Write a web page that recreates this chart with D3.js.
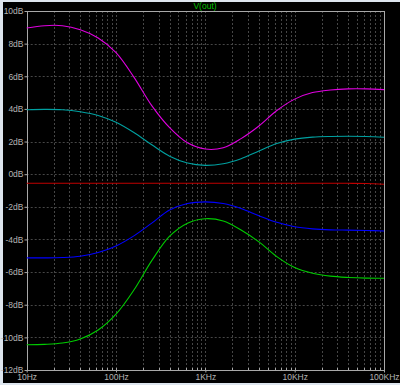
<!DOCTYPE html>
<html><head><meta charset="utf-8">
<script src="https://cdn.jsdelivr.net/npm/d3@7"></script>
<style>
html,body{margin:0;padding:0;background:#dde5ee;}
svg{display:block;}
text{font-family:"Liberation Sans",Arial,sans-serif;}
</style></head><body>
<svg id="c" width="400" height="385"></svg>
<script>
// ---- data ----
const freqs = [10,15.85,25.12,39.81,63.1,100,158.5,251.2,398.1,631,1000,1585,2512,3981,6310,10000,15850,25120,39810,63100,100000];
const magenta = [8.96,9.10,9.10,8.85,8.35,7.45,5.95,4.20,2.85,1.92,1.54,1.62,2.18,2.95,3.90,4.60,5.00,5.16,5.23,5.23,5.18];
const cyan    = [3.95,3.97,3.95,3.83,3.60,3.18,2.55,1.80,1.10,0.68,0.54,0.64,0.95,1.42,1.88,2.15,2.27,2.31,2.32,2.31,2.26];
const red     = [-0.56,-0.56,-0.56,-0.56,-0.56,-0.56,-0.56,-0.56,-0.56,-0.56,-0.56,-0.56,-0.56,-0.56,-0.56,-0.56,-0.56,-0.56,-0.56,-0.57,-0.62];
const blue    = [-5.13,-5.13,-5.11,-5.03,-4.80,-4.40,-3.78,-3.00,-2.20,-1.80,-1.70,-1.80,-2.10,-2.55,-2.95,-3.22,-3.35,-3.41,-3.43,-3.45,-3.48];
const green   = [-10.45,-10.43,-10.35,-10.10,-9.55,-8.58,-7.10,-5.30,-3.80,-3.00,-2.73,-2.87,-3.42,-4.15,-5.05,-5.72,-6.07,-6.25,-6.33,-6.37,-6.38];
const yTicks = [10,8,6,4,2,0,-2,-4,-6,-8,-10,-12];
const xTickVals = [10,100,1000,10000,100000];
const xTickLabels = ["10Hz","100Hz","1KHz","10KHz","100KHz"];
const title = "V(out)";
const seriesList = [
  {name:"magenta", vals:magenta, color:"#e000e0"},
  {name:"cyan", vals:cyan, color:"#00a0a0"},
  {name:"red", vals:red, color:"#c00000"},
  {name:"blue", vals:blue, color:"#0000ff"},
  {name:"green", vals:green, color:"#00cc00"}
];

// ---- layout ----
const svg = d3.select("#c");
const L = 26.7, R = 384, T = 11, B = 370;
svg.append("rect").attr("x",3).attr("y",2).attr("width",397).attr("height",381).attr("fill","#000");

const x = d3.scaleLog().domain([10,100000]).range([L,R]);
const y = d3.scaleLinear().domain([-12,10]).range([B,T]);

const minor = [];
for (let d = 10; d < 100000; d *= 10) for (let k = 1; k <= 9; k++) if (!(k===1 && d===10)) minor.push(k*d);

const grid = svg.append("g");
grid.selectAll("line.v").data(minor).join("line")
  .attr("x1",d=>Math.round(x(d))+0.5).attr("x2",d=>Math.round(x(d))+0.5)
  .attr("y1",T).attr("y2",B)
  .attr("stroke","#464646").attr("stroke-width",1).attr("stroke-dasharray","2,2");
grid.selectAll("line.h").data(yTicks.filter(v=>v>-12 && v<10)).join("line")
  .attr("x1",L).attr("x2",R)
  .attr("y1",d=>Math.round(y(d))+0.5).attr("y2",d=>Math.round(y(d))+0.5)
  .attr("stroke","#464646").attr("stroke-width",1).attr("stroke-dasharray","2,2");

// frame
svg.append("rect").attr("x",Math.round(L)+0.5).attr("y",T+0.5)
  .attr("width",Math.round(R)-Math.round(L)).attr("height",B-T)
  .attr("fill","none").attr("stroke","#a8a8a8").attr("stroke-width",1);

// y axis
const yAxis = d3.axisLeft(y).tickValues(yTicks).tickSize(3).tickFormat(d=>d+"dB");
const gy = svg.append("g").attr("transform",`translate(${Math.round(L)+0.5},0)`).call(yAxis);
gy.select(".domain").remove();
gy.selectAll("line").attr("stroke","#a8a8a8");
gy.selectAll("text").attr("fill","#b4b4b4").attr("font-size","8.5px").attr("x",-4);

// x axis
const xAxis = d3.axisBottom(x).tickValues(xTickVals).tickSize(2).tickFormat((d,i)=>xTickLabels[i]);
const gx = svg.append("g").attr("transform",`translate(0,${B+0.5})`).call(xAxis);
gx.select(".domain").remove();
gx.selectAll("line").attr("stroke","#a8a8a8");
gx.selectAll("text").attr("fill","#b4b4b4").attr("font-size","8.5px").attr("dy","0.55em");
svg.append("g").selectAll("line").data(minor).join("line")
  .attr("x1",d=>Math.round(x(d))+0.5).attr("x2",d=>Math.round(x(d))+0.5)
  .attr("y1",B-2).attr("y2",B).attr("stroke","#a8a8a8");

// title
svg.append("text").attr("x",205).attr("y",9).attr("text-anchor","middle")
  .attr("fill","#00c000").attr("font-size","8.5px").text(title);

// curves
const line = d3.line().x(d=>x(d[0])).y(d=>y(d[1])).curve(d3.curveCatmullRom.alpha(0.5));
const gl = svg.append("g");
seriesList.forEach(s=>{
  gl.append("path").datum(freqs.map((f,i)=>[f,s.vals[i]]))
    .attr("d",line).attr("fill","none").attr("stroke",s.color).attr("stroke-width",1.1);
});
</script></body></html>
